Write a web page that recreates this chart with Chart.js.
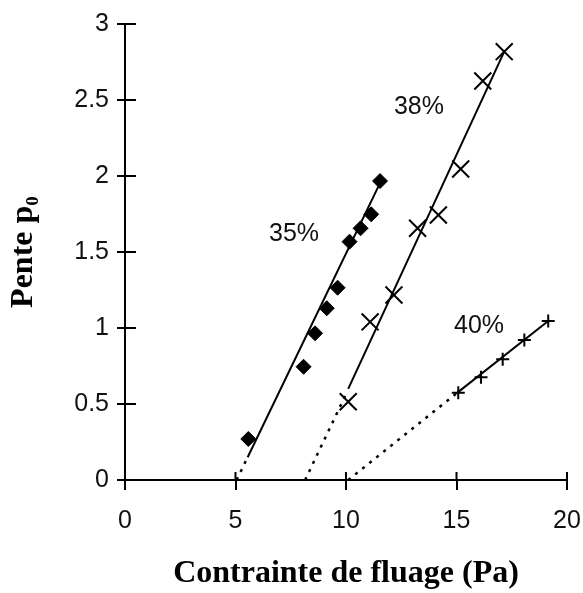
<!DOCTYPE html>
<html>
<head>
<meta charset="utf-8">
<script src="https://cdn.jsdelivr.net/npm/chart.js@4"></script>
<style>
  body { margin: 0; background: #fff; }
  canvas { display: block; }
</style>
</head>
<body>
<canvas id="fluageChart" width="583" height="593"></canvas>
<script>
// measured points, 35% (diamonds)
const x35 = [5.58, 8.08, 8.6, 9.13, 9.62, 10.16, 10.66, 11.14, 11.54];
const y35 = [0.27, 0.745, 0.965, 1.13, 1.265, 1.568, 1.656, 1.748, 1.967];
// 38% (crosses)
const x38 = [10.1, 11.09, 12.17, 13.24, 14.18, 15.19, 16.19, 17.16];
const y38 = [0.515, 1.04, 1.217, 1.656, 1.743, 2.046, 2.625, 2.818];
// 40% (plus)
const x40 = [15.08, 16.11, 17.09, 18.07, 19.15];
const y40 = [0.574, 0.676, 0.794, 0.921, 1.046];

// fitted lines (solid part) and extrapolation to zero (dotted part)
const fit35X = [5.55, 11.56];
const fit35Y = [0.15, 1.96];
const ext35X = [5.05, 5.55];
const ext35Y = [0.0, 0.15];
const fit38X = [10.1, 17.16];
const fit38Y = [0.6, 2.818];
const ext38X = [8.15, 10.05];
const ext38Y = [0.0, 0.58];
const fit40X = [15.0, 19.15];
const fit40Y = [0.57, 1.046];
const ext40X = [10.1, 15.0];
const ext40Y = [0.0, 0.57];

// labels next to the curves
const noteText = ['35%', '38%', '40%'];
const noteX = [7.65, 13.3, 16.02];
const noteY = [1.62, 2.45, 1.01];

const xTitle = 'Contrainte de fluage (Pa)';
const yTitle = 'Pente p\u2080';

function pts(xs, ys) {
    return xs.map((x, i) => ({ x: x, y: ys[i] }));
}

function lineSet(xs, ys, dashed) {
    return {
        data: pts(xs, ys),
        showLine: true,
        borderColor: '#000',
        borderWidth: dashed ? 2.5 : 2,
        borderDash: dashed ? [3, 6] : [],
        pointRadius: 0,
        fill: false
    };
}

// draws the inner half of the ticks so they cross the axes, plus the % labels
const extrasPlugin = {
    id: 'extras',
    afterDraw(chart) {
        const ctx = chart.ctx;
        const xs = chart.scales.x;
        const ys = chart.scales.y;
        const area = chart.chartArea;
        ctx.save();
        ctx.strokeStyle = '#000';
        ctx.lineWidth = 2;
        ctx.beginPath();
        ys.ticks.forEach(t => {
            const py = ys.getPixelForValue(t.value);
            ctx.moveTo(area.left, py);
            ctx.lineTo(area.left + 11, py);
        });
        xs.ticks.forEach(t => {
            const px = xs.getPixelForValue(t.value);
            ctx.moveTo(px, area.bottom);
            ctx.lineTo(px, area.bottom - 8);
        });
        ctx.stroke();

        ctx.fillStyle = '#111';
        ctx.font = '25px "Liberation Sans", Arial, sans-serif';
        ctx.textAlign = 'center';
        ctx.textBaseline = 'middle';
        noteText.forEach((txt, i) => {
            ctx.fillText(txt, xs.getPixelForValue(noteX[i]), ys.getPixelForValue(noteY[i]));
        });
        ctx.restore();
    }
};

const tickFont = { family: '"Liberation Sans", Arial, sans-serif', size: 25 };
const titleFont = { family: '"Liberation Serif", "Times New Roman", serif', size: 32, weight: 'bold', lineHeight: 1 };

new Chart(document.getElementById('fluageChart'), {
    type: 'scatter',
    data: {
        datasets: [
            lineSet(ext35X, ext35Y, true),
            lineSet(fit35X, fit35Y, false),
            lineSet(ext38X, ext38Y, true),
            lineSet(fit38X, fit38Y, false),
            lineSet(ext40X, ext40Y, true),
            lineSet(fit40X, fit40Y, false),
            {
                label: '35%',
                data: pts(x35, y35),
                pointStyle: 'rectRot',
                pointRadius: 7.5,
                backgroundColor: '#000',
                borderColor: '#000',
                borderWidth: 1
            },
            {
                label: '38%',
                data: pts(x38, y38),
                pointStyle: 'crossRot',
                pointRadius: 12,
                borderColor: '#000',
                borderWidth: 2
            },
            {
                label: '40%',
                data: pts(x40, y40),
                pointStyle: 'cross',
                pointRadius: 6.5,
                borderColor: '#000',
                borderWidth: 2
            }
        ]
    },
    options: {
        responsive: false,
        animation: false,
        events: [],
        layout: {
            padding: { top: 24, right: 0, left: 0, bottom: 0 }
        },
        plugins: {
            legend: { display: false },
            tooltip: { enabled: false }
        },
        scales: {
            x: {
                type: 'linear',
                min: 0,
                max: 20,
                afterFit: function(scale) {
                    scale.height = 113;
                    scale.paddingRight = 16;
                },
                ticks: {
                    stepSize: 5,
                    color: '#111',
                    padding: 16,
                    font: tickFont,
                    callback: v => String(v)
                },
                grid: {
                    drawOnChartArea: false,
                    drawTicks: true,
                    tickLength: 10,
                    color: '#000',
                    lineWidth: 2
                },
                border: { display: true, color: '#000', width: 2 },
                title: {
                    display: true,
                    text: xTitle,
                    color: '#000',
                    padding: { top: 0, bottom: 3 },
                    font: titleFont
                }
            },
            y: {
                type: 'linear',
                min: 0,
                max: 3,
                afterFit: function(scale) { scale.width = 125; },
                ticks: {
                    stepSize: 0.5,
                    color: '#111',
                    padding: 8,
                    font: tickFont,
                    callback: v => String(v)
                },
                grid: {
                    drawOnChartArea: false,
                    drawTicks: true,
                    tickLength: 8,
                    color: '#000',
                    lineWidth: 2
                },
                border: { display: true, color: '#000', width: 2 },
                title: {
                    display: true,
                    text: yTitle,
                    color: '#000',
                    padding: { top: 8, bottom: 0 },
                    font: titleFont
                }
            }
        }
    },
    plugins: [extrasPlugin]
});
</script>
</body>
</html>
